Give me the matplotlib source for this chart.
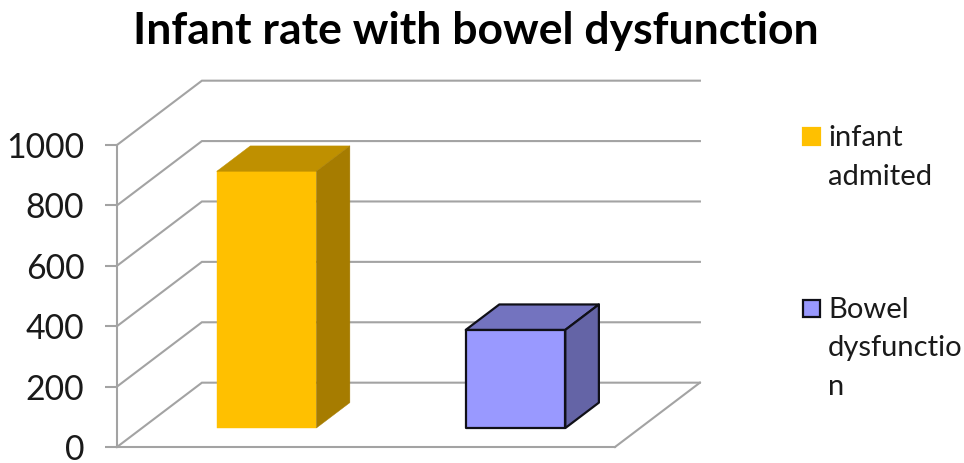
import matplotlib
matplotlib.use('Agg')
import matplotlib.pyplot as plt
from matplotlib.patches import Polygon, Rectangle

plt.rcParams['font.family'] = ['Lato', 'DejaVu Sans']

categories = ['infant\nadmited', 'Bowel\ndysfunctio\nn']
values = [850, 325]
yticks = [0, 200, 400, 600, 800, 1000]
title = 'Infant rate with bowel dysfunction'

front_colors = ['#FFC000', '#9999FF']
top_colors = ['#BF9000', '#7373BF']
side_colors = ['#A67C00', '#6464A6']
edge_colors = [None, '#101018']

GRID = '#A3A3A3'
W, H = 964, 463
# oblique depth of the floor, in data units
DEPTH_X = 0.341
DEPTH_Y = 213
BAR_WIDTH = 0.4
BAR_D0, BAR_D1 = 0.295, 0.69


def project(x, v, d):
    return (x + d * DEPTH_X, v + d * DEPTH_Y)


def draw_box(ax, center, value, front, top, side, edge):
    x0, x1 = center - BAR_WIDTH / 2, center + BAR_WIDTH / 2
    faces = [
        ([(x0, 0, BAR_D0), (x1, 0, BAR_D0), (x1, value, BAR_D0), (x0, value, BAR_D0)], front),
        ([(x0, value, BAR_D0), (x1, value, BAR_D0), (x1, value, BAR_D1), (x0, value, BAR_D1)], top),
        ([(x1, 0, BAR_D0), (x1, 0, BAR_D1), (x1, value, BAR_D1), (x1, value, BAR_D0)], side),
    ]
    for corners, color in faces:
        pts = [project(*c) for c in corners]
        ax.add_patch(Polygon(pts, closed=True, facecolor=color,
                             edgecolor=edge if edge else color,
                             linewidth=1.6 if edge else 0.3,
                             joinstyle='round', zorder=3, clip_on=False))


fig = plt.figure(figsize=(W / 100, H / 100), dpi=100)
ax = fig.add_axes([117 / W, (H - 447) / H, 498 / W, 302 / H])
ax.set_xlim(0, 2)
ax.set_ylim(0, 1000)
ax.patch.set_visible(False)

for s in ['top', 'right']:
    ax.spines[s].set_visible(False)
for s in ['left', 'bottom']:
    ax.spines[s].set_color(GRID)
    ax.spines[s].set_linewidth(1.5)

ax.set_xticks([])
ax.set_yticks(yticks)
ax.tick_params(axis='y', length=8.5, width=1.5, color=GRID, pad=15,
               labelsize=24.3, labelcolor='#1A1A1A')
for label in ax.get_yticklabels():
    label.set_verticalalignment('center_baseline')

# gridlines running along the side wall and the back wall
for v in yticks:
    xs, ys = zip(project(0, v, 0), project(0, v, 1), project(2, v, 1))
    ax.plot(xs, ys, color=GRID, lw=1.5, zorder=1, clip_on=False, solid_joinstyle='miter')

# right edge of the floor
xs, ys = zip(project(2, 0, 0), project(2, 0, 1))
ax.plot(xs, ys, color=GRID, lw=1.5, zorder=1, clip_on=False)

for i, value in enumerate(values):
    draw_box(ax, i + 0.5, value, front_colors[i], top_colors[i], side_colors[i], edge_colors[i])

fig.text(476 / W, 1 - 31 / H, title, ha='center', va='center',
         fontsize=32, fontweight='bold', color='black')

# legend keys and labels, placed in figure pixels
key_y = [136, 308]
label_base = [185, 395]
for i, name in enumerate(categories):
    fig.add_artist(Rectangle((803 / W, 1 - (key_y[i] + 8.5) / H), 16.5 / W, 17 / H,
                             transform=fig.transFigure, facecolor=front_colors[i],
                             edgecolor=edge_colors[i] if edge_colors[i] else front_colors[i],
                             linewidth=1.6))
    fig.text(828 / W, 1 - label_base[i] / H, name, ha='left', va='baseline',
             fontsize=21, color='#1A1A1A', linespacing=1.6)

fig.savefig('out.png', dpi=100)
